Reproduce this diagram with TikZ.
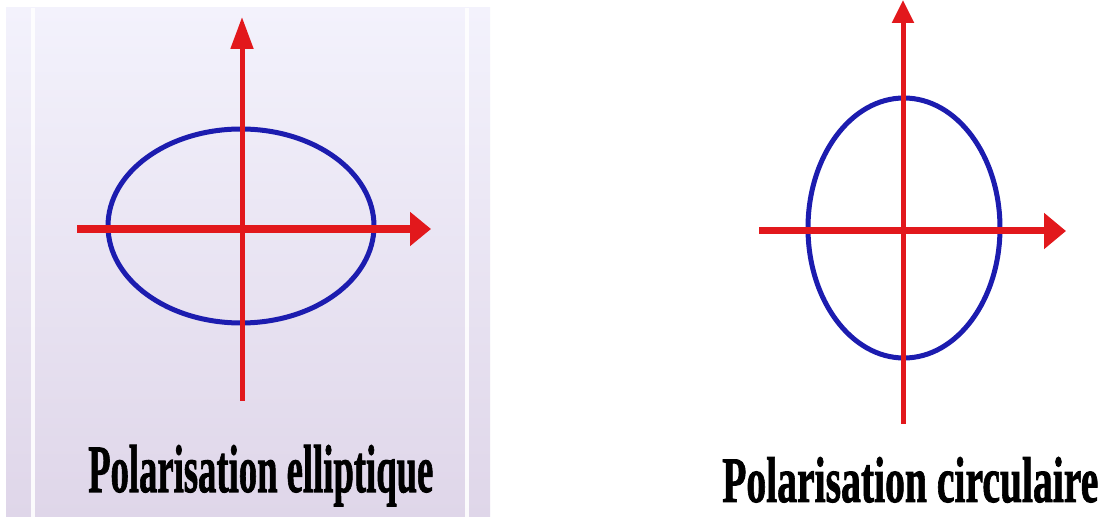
\documentclass[tikz,border=0pt]{standalone}
\usepackage{fontspec}
\setmainfont{Liberation Serif}
\newfontfamily\heavyserif[FakeBold=1.5]{Liberation Serif Bold}
\usetikzlibrary{arrows.meta}
\definecolor{axisred}{RGB}{226,24,28}
\definecolor{curveblue}{RGB}{28,28,175}
\definecolor{bgtop}{RGB}{243,242,252}
\definecolor{bgbot}{RGB}{223,214,233}
\tikzset{
  axis/.style={draw=axisred, line width=#1},
  curve/.style={draw=curveblue, line width=5pt},
  label/.style={inner sep=0pt, text=black, font=\heavyserif},
  sepline/.style={draw=white, line width=4pt, opacity=0.9}
}
\begin{document}
\begin{tikzpicture}[x=1pt,y=-1pt]
\useasboundingbox (0,0) rectangle (1104,518);
\fill[white] (0,0) rectangle (1104,518);
% left panel background
\shade[top color=bgtop, bottom color=bgbot] (6,8) rectangle (490,517);
\draw[sepline] (33,8) -- (33,517);
\draw[sepline] (467,8) -- (467,517);

% ---- elliptical polarisation ----
\coordinate (Lc) at (241,226);
\coordinate (Lvb) at (242,401);
\coordinate (Lvt) at (242,17);
\coordinate (Lhl) at (77,229);
\coordinate (Lhr) at (431,229);
\draw[curve] (Lc) ellipse [x radius=133, y radius=97];
\draw[axis=5pt, -{Triangle[length=32pt,width=22pt]}] (Lvb) -- (Lvt);
\draw[axis=7.5pt, -{Triangle[length=21pt,width=33pt]}] (Lhl) -- (Lhr);
\node[label, anchor=base west] (Ltxt) at (88,492)
  {\resizebox{345pt}{47pt}{Polarisation elliptique}};

% ---- circular polarisation ----
\coordinate (Rc) at (904,228);
\coordinate (Rvb) at (903,424);
\coordinate (Rvt) at (903,0);
\coordinate (Rhl) at (759,231);
\coordinate (Rhr) at (1066,231);
\draw[curve] (Rc) ellipse [x radius=96, y radius=130];
\draw[axis=5pt, -{Triangle[length=23pt,width=21pt]}] (Rvb) -- (Rvt);
\draw[axis=7pt, -{Triangle[length=22pt,width=35pt]}] (Rhl) -- (Rhr);
\node[label, anchor=base west] (Rtxt) at (722,502)
  {\resizebox{376pt}{45pt}{Polarisation circulaire}};
\end{tikzpicture}
\end{document}
